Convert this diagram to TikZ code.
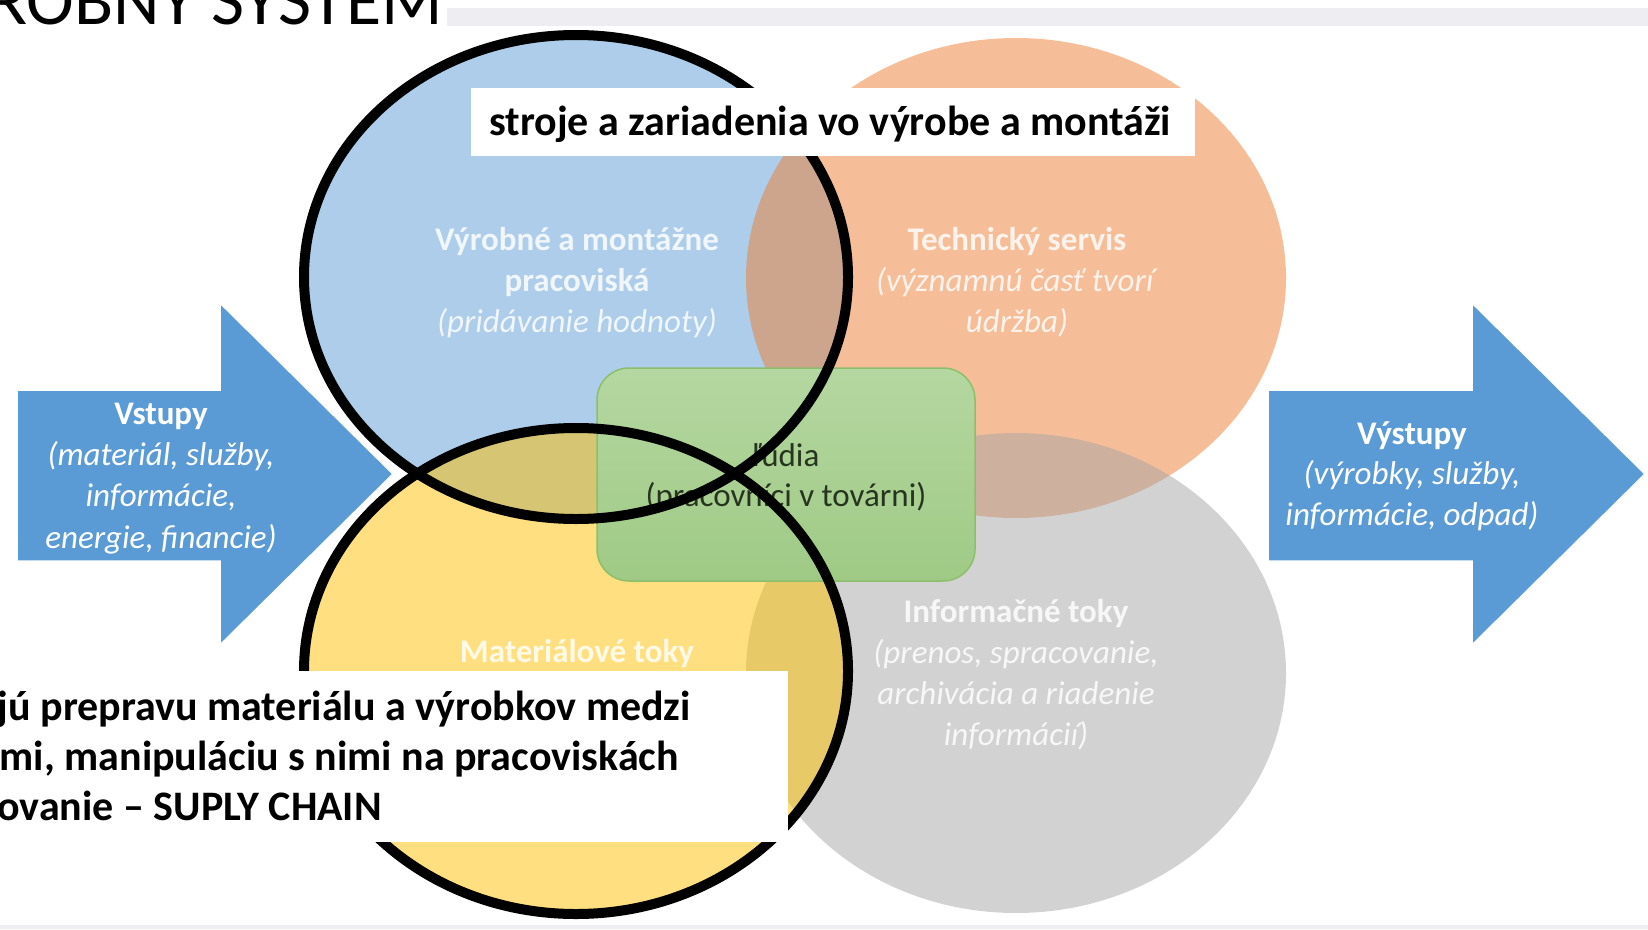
\documentclass[tikz,border=0pt]{standalone}
\usepackage{fontspec}
\setmainfont{Carlito}
\definecolor{vblue}{HTML}{5B9BD5}
\definecolor{vorange}{HTML}{ED7D31}
\definecolor{vgray}{HTML}{A5A5A5}
\definecolor{vgold}{HTML}{FFC000}
\definecolor{bandgray}{HTML}{EEEEF2}
\definecolor{greentop}{HTML}{B5D7A1}
\definecolor{greenbot}{HTML}{9FCA85}
\definecolor{greenedge}{HTML}{8CBF6C}
\definecolor{peopletext}{HTML}{27341F}
\begin{document}
\begin{tikzpicture}[x=1pt, y=-1pt,
  venn/.style={fill opacity=0.5},
  ring/.style={draw=black, line width=10pt},
  bigarrow/.style={fill=vblue, draw=white, line width=1.5pt, line join=miter},
  % multi-line labels are placed by the baseline of their last line
  lbl/.style={text=white, text opacity=0.82, align=center, anchor=base,
    inner sep=0pt, font=\fontsize{33}{41}\selectfont},
  arrowlbl/.style={text=white, align=center, anchor=base, inner sep=0pt},
  whitebox/.style={fill=white, draw=none, inner sep=0pt},
  boxtext/.style={inner sep=0pt, font=\fontsize{42}{50}\selectfont\bfseries},
  peoplebox/.style={rounded corners=32pt, draw=greenedge, line width=1.5pt,
    top color=greentop, bottom color=greenbot, inner sep=0pt,
    minimum width=378pt, minimum height=213pt}]
\useasboundingbox (0,0) rectangle (1648,929);
\clip (0,0) rectangle (1648,929);

% header band and title
\fill[bandgray] (447,8) rectangle (1648,26);
\fill[bandgray] (0,925) rectangle (1648,929);
\node[anchor=base east, inner sep=0pt, font=\fontsize{72}{80}\selectfont] (title) at (443,24) {ROBNÝ SYSTÉM};

% input and output arrows
\filldraw[bigarrow] (17,390) -- (220,390) -- (220,303) -- (393,474) -- (220,645) -- (220,561) -- (17,561) -- cycle;
\filldraw[bigarrow] (1268,390) -- (1472,390) -- (1472,303) -- (1645,474) -- (1472,645) -- (1472,561) -- (1268,561) -- cycle;
\node[arrowlbl, font=\fontsize{33}{41.3}\selectfont] (vstupy) at (161,548)
  {\textbf{Vstupy}\\\textit{(materiál, služby,}\\\textit{informácie,}\\\textit{energie, financie)}};
\node[arrowlbl, font=\fontsize{33}{40.5}\selectfont] (vystupy) at (1412,525)
  {\textbf{Výstupy}\\\textit{(výrobky, služby,}\\\textit{informácie, odpad)}};

% four overlapping areas
\fill[venn, vblue]   (576,278) ellipse [x radius=270pt, y radius=240pt];
\fill[venn, vorange] (1016,278) ellipse [x radius=270pt, y radius=240pt];
\fill[venn, vgray]   (1016,673) ellipse [x radius=270pt, y radius=240pt];
\fill[venn, vgold]   (576,672) ellipse [x radius=270pt, y radius=240pt];

\node[lbl] (vyroba) at (577,332)
  {\textbf{Výrobné a montážne}\\\textbf{pracoviská}\\\textit{(pridávanie hodnoty)}};
\node[lbl] (servis) at (1017,332)
  {\textbf{Technický servis}\\\textit{(významnú časť tvorí}\\\textit{údržba)}};
\node[lbl] (material) at (577,662) {\textbf{Materiálové toky}};
\node[lbl] (info) at (1016,745)
  {\textbf{Informačné toky}\\\textit{(prenos, spracovanie,}\\\textit{archivácia a riadenie}\\\textit{informácií)}};

% people in the middle
\node[peoplebox] (ludia) at (786,474.5) {};
\node[anchor=base, align=center, inner sep=0pt, text=peopletext,
  font=\fontsize{33}{40}\selectfont] (ludiatext) at (786,506)
  {ľudia\\(pracovníci v továrni)};

% highlighted areas
\draw[ring] (576,277) ellipse [x radius=272pt, y radius=242pt];
\draw[ring] (576,671) ellipse [x radius=272pt, y radius=243pt];

% callout boxes
\node[whitebox, minimum width=724pt, minimum height=68pt] (topbox) at (833,122) {};
\node[boxtext, anchor=base west] (toptext) at (489,135) {stroje a zariadenia vo výrobe a montáži};
\node[whitebox, minimum width=790pt, minimum height=171pt] (botbox) at (393,756.5) {};
\node[boxtext, anchor=base east] (bot1) at (691,720) {jú prepravu materiálu a výrobkov medzi};
\node[boxtext, anchor=base east] (bot2) at (679,770) {mi, manipuláciu s nimi na pracoviskách};
\node[boxtext, anchor=base east] (bot3) at (382,820) {ovanie – SUPLY CHAIN};
\end{tikzpicture}
\end{document}
